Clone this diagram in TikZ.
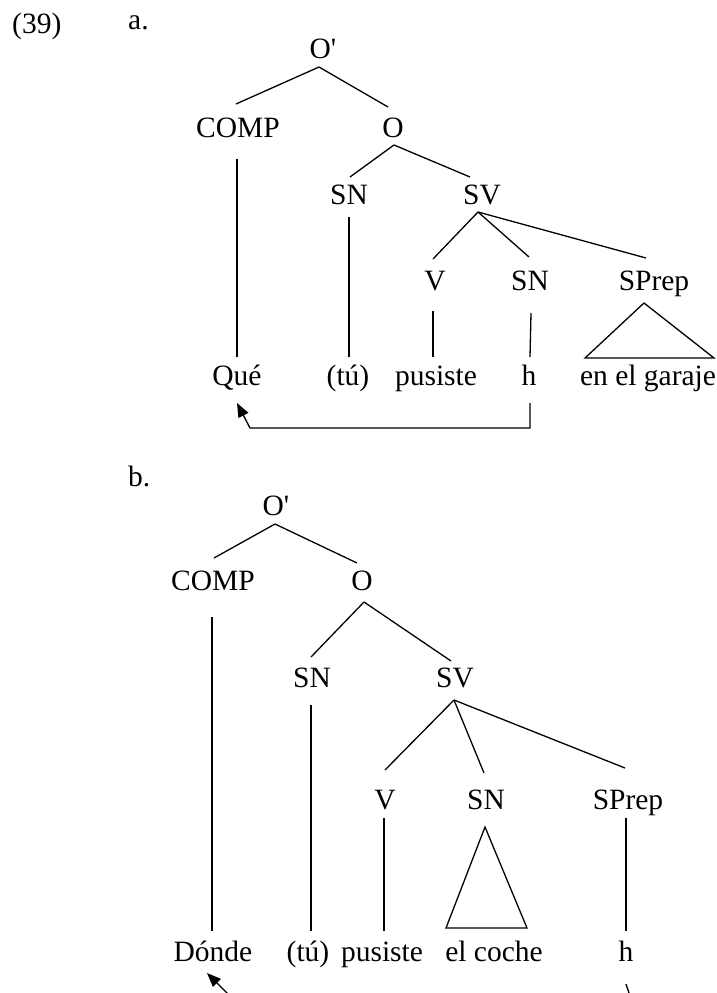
\documentclass[tikz,border=0pt]{standalone}
\usepackage{fontspec}
\setmainfont{Liberation Serif}
\usetikzlibrary{arrows.meta}
\begin{document}
\begin{tikzpicture}[x=1pt,y=-1pt,
  lbl/.style={anchor=base,inner sep=0pt,font=\fontsize{29.5}{34}\selectfont},
  lblw/.style={anchor=base west,inner sep=0pt,font=\fontsize{29.5}{34}\selectfont},
  br/.style={line width=1.3pt},
  mv/.style={line width=1.3pt,-{Triangle[length=14pt,width=11pt]}}]
\useasboundingbox (0,0) rectangle (717,993);
\clip (0,0) rectangle (717,993);
% ---------- (a) ----------
\node[lblw] (n39) at (12,33) {(39)};
\node[lblw] (la) at (128,29) {a.};
\node[lbl] (aOp) at (323,58) {O\textquotesingle};
\node[lbl] (aCOMP) at (238,137) {COMP};
\node[lbl] (aO) at (393,137) {O};
\node[lbl] (aSN) at (349,204) {SN};
\node[lbl] (aSV) at (482,204) {SV};
\node[lbl] (aV) at (435,290) {V};
\node[lbl] (aSNb) at (530,290) {SN};
\node[lbl] (aSP) at (654,290) {SPrep};
\node[lbl] (aQue) at (237,385) {Qué};
\node[lbl] (atu) at (348,385) {(tú)};
\node[lbl] (apus) at (436,385) {pusiste};
\node[lbl] (ah) at (529,385) {h};
\node[lbl] (agar) at (648,385) {en el garaje};
\draw[br] ([shift={(-4,9)}]aOp.base) -- ([shift={(-2,-33)}]aCOMP.base);
\draw[br] ([shift={(-4,9)}]aOp.base) -- ([shift={(-5,-30)}]aO.base);
\draw[br] ([shift={(1,8)}]aO.base) -- ([shift={(1,-27)}]aSN.base);
\draw[br] ([shift={(1,8)}]aO.base) -- ([shift={(-12,-27)}]aSV.base);
\draw[br] ([shift={(-4,8)}]aSV.base) -- ([shift={(-2,-31)}]aV.base);
\draw[br] ([shift={(-4,8)}]aSV.base) -- ([shift={(-1,-33)}]aSNb.base);
\draw[br] ([shift={(-4,8)}]aSV.base) -- ([shift={(-8,-32)}]aSP.base);
\draw[br] ([shift={(-1,22)}]aCOMP.base) -- ([shift={(0,-28)}]aQue.base);
\draw[br] ([shift={(0,13)}]aSN.base) -- ([shift={(1,-28)}]atu.base);
\draw[br] ([shift={(-2,21)}]aV.base) -- ([shift={(-3,-28)}]apus.base);
\draw[br] ([shift={(1,23)}]aSNb.base) -- ([shift={(1,-28)}]ah.base);
\draw[br,line join=miter] ([shift={(-10,13)}]aSP.base) -- ([shift={(-63,-27)}]agar.base)
  -- ([shift={(66,-27)}]agar.base) -- cycle;
\draw[mv] ([shift={(1,18)}]ah.base) -- ([shift={(1,43)}]ah.base)
  -- ([shift={(13,43)}]aQue.base) -- ([shift={(0,18)}]aQue.base);
% ---------- (b) ----------
\node[lblw] (lb) at (128,486) {b.};
\node[lbl] (bOp) at (276,515) {O\textquotesingle};
\node[lbl] (bCOMP) at (213,590) {COMP};
\node[lbl] (bO) at (362,590) {O};
\node[lbl] (bSN) at (312,687) {SN};
\node[lbl] (bSV) at (455,687) {SV};
\node[lbl] (bV) at (385,809) {V};
\node[lbl] (bSNb) at (486,809) {SN};
\node[lbl] (bSP) at (628,809) {SPrep};
\node[lbl] (bDonde) at (213,961) {Dónde};
\node[lbl] (btu) at (308,961) {(tú)};
\node[lbl] (bpus) at (382,961) {pusiste};
\node[lbl] (bcoche) at (494,961) {el coche};
\node[lbl] (bh) at (626,961) {h};
\draw[br] ([shift={(-1,9)}]bOp.base) -- ([shift={(1,-32)}]bCOMP.base);
\draw[br] ([shift={(-1,9)}]bOp.base) -- ([shift={(-5,-27)}]bO.base);
\draw[br] ([shift={(2,12)}]bO.base) -- ([shift={(-1,-30)}]bSN.base);
\draw[br] ([shift={(2,12)}]bO.base) -- ([shift={(-4,-26)}]bSV.base);
\draw[br] ([shift={(-1,13)}]bSV.base) -- ([shift={(0,-39)}]bV.base);
\draw[br] ([shift={(-1,13)}]bSV.base) -- ([shift={(-2,-36)}]bSNb.base);
\draw[br] ([shift={(-1,13)}]bSV.base) -- ([shift={(-3,-41)}]bSP.base);
\draw[br] ([shift={(-1,27)}]bCOMP.base) -- ([shift={(-1,-30)}]bDonde.base);
\draw[br] ([shift={(-1,18)}]bSN.base) -- ([shift={(3,-30)}]btu.base);
\draw[br] ([shift={(-1,9)}]bV.base) -- ([shift={(2,-30)}]bpus.base);
\draw[br] ([shift={(-2,9)}]bSP.base) -- ([shift={(0,-30)}]bh.base);
\draw[br,line join=miter] ([shift={(-1,18)}]bSNb.base) -- ([shift={(-48,-33)}]bcoche.base)
  -- ([shift={(33,-33)}]bcoche.base) -- cycle;
\draw[mv] ([shift={(0,23)}]bh.base) -- ([shift={(9,50)}]bh.base)
  -- ([shift={(32,50)}]bDonde.base) -- ([shift={(-6,12)}]bDonde.base);
\end{tikzpicture}
\end{document}
